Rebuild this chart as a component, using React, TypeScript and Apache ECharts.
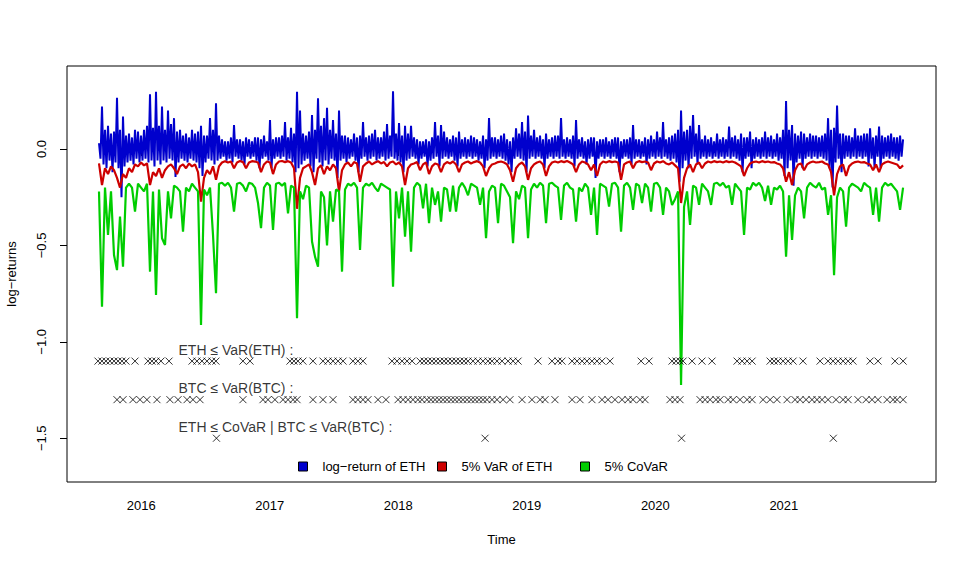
import React, { useEffect, useRef } from "react";
import * as echarts from "echarts";

// time index: decimal years; peaks at START + i*STEP, troughs half a step later
const START_YEAR = 2015.671;
const STEP_YEARS = 0.023346;

// log-return of ETH: local highs of each step
const ethPeaks = [
  0.03, 0.22, 0.1, 0.12, 0.08, 0.09, 0.266, 0.1, 0.168, 0.07,
  0.08, 0.06, 0.1, 0.09, 0.07, 0.1, 0.12, 0.284, 0.11, 0.297,
  0.12, 0.22, 0.1, 0.2, 0.13, 0.16, 0.09, 0.1, 0.07, 0.08,
  0.06, 0.1, 0.08, 0.09, 0.12, 0.07, 0.07, 0.16, 0.1, 0.237,
  0.07, 0.05, 0.04, 0.04, 0.06, 0.124, 0.05, 0.05, 0.04, 0.06,
  0.05, 0.04, 0.06, 0.06, 0.05, 0.07, 0.04, 0.15, 0.05, 0.06,
  0.06, 0.07, 0.14, 0.06, 0.11, 0.08, 0.297, 0.2, 0.08, 0.07,
  0.09, 0.176, 0.1, 0.263, 0.12, 0.16, 0.214, 0.1, 0.15, 0.08,
  0.2, 0.07, 0.07, 0.06, 0.05, 0.08, 0.06, 0.07, 0.14, 0.06,
  0.07, 0.08, 0.1, 0.06, 0.06, 0.09, 0.13, 0.07, 0.3, 0.08,
  0.135, 0.07, 0.12, 0.08, 0.12, 0.06, 0.05, 0.04, 0.04, 0.05,
  0.04, 0.06, 0.14, 0.07, 0.124, 0.09, 0.06, 0.05, 0.07, 0.06,
  0.09, 0.05, 0.06, 0.05, 0.07, 0.06, 0.05, 0.04, 0.07, 0.05,
  0.16, 0.06, 0.06, 0.05, 0.07, 0.08, 0.05, 0.04, 0.06, 0.107,
  0.08, 0.14, 0.09, 0.173, 0.07, 0.1, 0.06, 0.07, 0.05, 0.08,
  0.05, 0.06, 0.07, 0.07, 0.16, 0.05, 0.06, 0.05, 0.07, 0.15,
  0.05, 0.06, 0.04, 0.05, 0.06, 0.06, 0.04, 0.05, 0.05, 0.06,
  0.04, 0.05, 0.06, 0.06, 0.04, 0.05, 0.05, 0.06, 0.124, 0.05,
  0.05, 0.04, 0.06, 0.05, 0.07, 0.05, 0.09, 0.06, 0.14, 0.05,
  0.06, 0.07, 0.08, 0.1, 0.2, 0.09, 0.1, 0.12, 0.176, 0.08,
  0.124, 0.05, 0.07, 0.05, 0.06, 0.04, 0.08, 0.05, 0.06, 0.05,
  0.116, 0.06, 0.07, 0.05, 0.08, 0.06, 0.06, 0.09, 0.05, 0.06,
  0.05, 0.06, 0.09, 0.06, 0.07, 0.05, 0.08, 0.06, 0.1, 0.249,
  0.1, 0.124, 0.08, 0.07, 0.09, 0.08, 0.06, 0.08, 0.07, 0.07,
  0.06, 0.07, 0.08, 0.16, 0.1, 0.11, 0.225, 0.08, 0.08, 0.07,
  0.07, 0.06, 0.107, 0.07, 0.07, 0.08, 0.08, 0.107, 0.06, 0.07,
  0.116, 0.07, 0.06, 0.07, 0.08, 0.06, 0.06, 0.07, 0.05,
];

// log-return of ETH: local lows between the peaks
const ethTroughs = [
  -0.05, -0.08, -0.1, -0.06, -0.12, -0.07, -0.1, -0.25, -0.09, -0.07,
  -0.06, -0.08, -0.05, -0.07, -0.06, -0.05, -0.07, -0.06, -0.09, -0.06,
  -0.08, -0.06, -0.07, -0.05, -0.06, -0.145, -0.07, -0.05, -0.06, -0.07,
  -0.05, -0.06, -0.07, -0.1, -0.14, -0.07, -0.05, -0.06, -0.08, -0.06,
  -0.05, -0.04, -0.06, -0.05, -0.07, -0.04, -0.05, -0.06, -0.08, -0.04,
  -0.05, -0.04, -0.06, -0.1, -0.05, -0.04, -0.06, -0.1, -0.05, -0.04,
  -0.05, -0.04, -0.06, -0.05, -0.07, -0.12, -0.1, -0.08, -0.06, -0.05,
  -0.09, -0.12, -0.05, -0.07, -0.09, -0.06, -0.08, -0.05, -0.06, -0.15,
  -0.06, -0.05, -0.07, -0.05, -0.04, -0.06, -0.12, -0.05, -0.04, -0.06,
  -0.05, -0.04, -0.06, -0.05, -0.04, -0.06, -0.05, -0.04, -0.05, -0.06,
  -0.07, -0.12, -0.06, -0.05, -0.04, -0.05, -0.08, -0.05, -0.04, -0.09,
  -0.06, -0.05, -0.04, -0.09, -0.05, -0.04, -0.05, -0.04, -0.06, -0.09,
  -0.05, -0.04, -0.05, -0.04, -0.05, -0.04, -0.06, -0.05, -0.1, -0.06,
  -0.05, -0.04, -0.05, -0.04, -0.05, -0.06, -0.08, -0.12, -0.05, -0.04,
  -0.05, -0.06, -0.12, -0.05, -0.04, -0.05, -0.04, -0.05, -0.1, -0.05,
  -0.04, -0.05, -0.04, -0.05, -0.04, -0.05, -0.04, -0.05, -0.09, -0.05,
  -0.04, -0.05, -0.08, -0.05, -0.04, -0.15, -0.05, -0.04, -0.05, -0.04,
  -0.05, -0.04, -0.05, -0.12, -0.05, -0.04, -0.05, -0.08, -0.05, -0.04,
  -0.05, -0.04, -0.08, -0.05, -0.04, -0.05, -0.04, -0.05, -0.04, -0.05,
  -0.06, -0.05, -0.07, -0.17, -0.1, -0.06, -0.1, -0.05, -0.04, -0.08,
  -0.05, -0.04, -0.05, -0.04, -0.05, -0.04, -0.05, -0.04, -0.05, -0.04,
  -0.05, -0.04, -0.05, -0.06, -0.12, -0.05, -0.04, -0.1, -0.05, -0.04,
  -0.05, -0.04, -0.05, -0.04, -0.05, -0.04, -0.06, -0.05, -0.14, -0.1,
  -0.06, -0.19, -0.07, -0.05, -0.1, -0.05, -0.04, -0.05, -0.04, -0.05,
  -0.04, -0.05, -0.06, -0.1, -0.2, -0.07, -0.05, -0.12, -0.05, -0.04,
  -0.05, -0.04, -0.05, -0.04, -0.05, -0.04, -0.09, -0.05, -0.1, -0.04,
  -0.1, -0.05, -0.04, -0.05, -0.04, -0.05, -0.06, -0.04,
];

const varEth = [
  -0.075, -0.187, -0.1, -0.13, -0.09, -0.11, -0.15, -0.2, -0.13, -0.15,
  -0.1, -0.12, -0.08, -0.09, -0.07, -0.085, -0.075, -0.187, -0.12, -0.14,
  -0.1, -0.15, -0.11, -0.09, -0.08, -0.1, -0.13, -0.09, -0.08, -0.1,
  -0.075, -0.09, -0.08, -0.12, -0.273, -0.15, -0.11, -0.13, -0.09, -0.16,
  -0.09, -0.07, -0.063, -0.07, -0.065, -0.1, -0.07, -0.062, -0.068, -0.1,
  -0.07, -0.063, -0.065, -0.07, -0.12, -0.08, -0.065, -0.07, -0.13, -0.08,
  -0.065, -0.062, -0.068, -0.063, -0.07, -0.1, -0.31, -0.15, -0.1, -0.09,
  -0.08, -0.12, -0.187, -0.1, -0.085, -0.13, -0.09, -0.11, -0.08, -0.1,
  -0.22, -0.11, -0.08, -0.07, -0.09, -0.068, -0.075, -0.17, -0.09, -0.075,
  -0.065, -0.08, -0.07, -0.063, -0.075, -0.068, -0.09, -0.07, -0.065, -0.08,
  -0.07, -0.09, -0.187, -0.1, -0.08, -0.075, -0.068, -0.11, -0.08, -0.07,
  -0.13, -0.09, -0.075, -0.08, -0.12, -0.08, -0.068, -0.075, -0.065, -0.08,
  -0.12, -0.08, -0.07, -0.065, -0.075, -0.068, -0.063, -0.07, -0.09, -0.14,
  -0.1, -0.08, -0.075, -0.068, -0.065, -0.07, -0.08, -0.11, -0.17, -0.1,
  -0.08, -0.07, -0.09, -0.16, -0.1, -0.08, -0.07, -0.065, -0.08, -0.14,
  -0.09, -0.07, -0.065, -0.07, -0.063, -0.068, -0.062, -0.07, -0.08, -0.12,
  -0.08, -0.065, -0.07, -0.08, -0.11, -0.08, -0.14, -0.08, -0.065, -0.07,
  -0.063, -0.068, -0.065, -0.07, -0.16, -0.08, -0.07, -0.065, -0.1, -0.07,
  -0.063, -0.068, -0.065, -0.07, -0.11, -0.075, -0.065, -0.07, -0.063, -0.075,
  -0.08, -0.07, -0.085, -0.1, -0.28, -0.15, -0.1, -0.08, -0.12, -0.08,
  -0.07, -0.1, -0.075, -0.065, -0.07, -0.063, -0.068, -0.065, -0.07, -0.063,
  -0.068, -0.065, -0.07, -0.08, -0.09, -0.14, -0.1, -0.075, -0.068, -0.065,
  -0.07, -0.063, -0.068, -0.065, -0.07, -0.068, -0.075, -0.08, -0.1, -0.17,
  -0.12, -0.187, -0.11, -0.08, -0.075, -0.11, -0.08, -0.07, -0.065, -0.07,
  -0.068, -0.065, -0.075, -0.08, -0.12, -0.24, -0.13, -0.09, -0.08, -0.14,
  -0.09, -0.075, -0.068, -0.065, -0.07, -0.068, -0.075, -0.08, -0.11, -0.08,
  -0.12, -0.08, -0.07, -0.065, -0.07, -0.075, -0.08, -0.1, -0.085,
];

const coVar = [
  -0.22, -0.818, -0.2, -0.446, -0.22, -0.55, -0.628, -0.35, -0.61, -0.2,
  -0.18, -0.2, -0.325, -0.18, -0.2, -0.22, -0.18, -0.636, -0.22, -0.757,
  -0.21, -0.463, -0.498, -0.22, -0.36, -0.19, -0.2, -0.22, -0.429, -0.2,
  -0.22, -0.18, -0.2, -0.22, -0.913, -0.21, -0.24, -0.2, -0.446, -0.748,
  -0.18, -0.175, -0.19, -0.175, -0.2, -0.325, -0.18, -0.175, -0.19, -0.22,
  -0.175, -0.18, -0.2, -0.28, -0.41, -0.2, -0.175, -0.19, -0.42, -0.18,
  -0.175, -0.19, -0.175, -0.334, -0.19, -0.2, -0.878, -0.22, -0.26, -0.19,
  -0.2, -0.48, -0.558, -0.61, -0.22, -0.25, -0.5, -0.22, -0.377, -0.21,
  -0.22, -0.636, -0.21, -0.18, -0.19, -0.175, -0.2, -0.524, -0.2, -0.18,
  -0.19, -0.175, -0.2, -0.22, -0.18, -0.19, -0.2, -0.21, -0.714, -0.22,
  -0.36, -0.2, -0.455, -0.22, -0.533, -0.2, -0.175, -0.19, -0.308, -0.18,
  -0.385, -0.2, -0.29, -0.22, -0.377, -0.2, -0.21, -0.325, -0.19, -0.325,
  -0.2, -0.175, -0.2, -0.24, -0.18, -0.19, -0.2, -0.29, -0.2, -0.463,
  -0.22, -0.19, -0.2, -0.385, -0.18, -0.19, -0.22, -0.25, -0.489, -0.22,
  -0.26, -0.19, -0.2, -0.463, -0.21, -0.18, -0.2, -0.175, -0.19, -0.385,
  -0.18, -0.175, -0.19, -0.2, -0.368, -0.19, -0.175, -0.2, -0.21, -0.377,
  -0.2, -0.22, -0.18, -0.2, -0.342, -0.2, -0.446, -0.18, -0.19, -0.2,
  -0.299, -0.18, -0.175, -0.2, -0.429, -0.19, -0.175, -0.2, -0.316, -0.18,
  -0.19, -0.28, -0.18, -0.2, -0.325, -0.18, -0.175, -0.2, -0.342, -0.2,
  -0.22, -0.29, -0.26, -0.22, -1.224, -0.3, -0.22, -0.394, -0.19, -0.2,
  -0.29, -0.18, -0.2, -0.22, -0.29, -0.18, -0.175, -0.19, -0.175, -0.2,
  -0.19, -0.29, -0.18, -0.2, -0.22, -0.446, -0.2, -0.21, -0.175, -0.19,
  -0.175, -0.2, -0.27, -0.19, -0.29, -0.2, -0.21, -0.19, -0.22, -0.558,
  -0.24, -0.472, -0.24, -0.2, -0.22, -0.36, -0.2, -0.175, -0.19, -0.2,
  -0.175, -0.21, -0.2, -0.342, -0.24, -0.654, -0.25, -0.2, -0.22, -0.403,
  -0.2, -0.18, -0.19, -0.2, -0.22, -0.175, -0.19, -0.2, -0.342, -0.2,
  -0.377, -0.2, -0.175, -0.19, -0.18, -0.2, -0.22, -0.316, -0.2,
];

// exceedance dates (decimal years)
const ethBelowVar = [
  2015.663, 2015.694, 2015.725, 2015.756, 2015.788, 2015.819, 2015.85, 2015.881,
  2015.951, 2016.052, 2016.083, 2016.114, 2016.153, 2016.216, 2016.395, 2016.433,
  2016.472, 2016.511, 2016.55, 2016.581, 2016.791, 2016.846, 2017.157, 2017.188,
  2017.219, 2017.258, 2017.336, 2017.414, 2017.453, 2017.492, 2017.531, 2017.57,
  2017.647, 2017.686, 2017.725, 2017.951, 2017.99, 2018.029, 2018.068, 2018.107,
  2018.169, 2018.2, 2018.231, 2018.262, 2018.293, 2018.325, 2018.356, 2018.387,
  2018.418, 2018.449, 2018.48, 2018.511, 2018.542, 2018.581, 2018.62, 2018.659,
  2018.698, 2018.729, 2018.768, 2018.807, 2018.854, 2018.893, 2018.932, 2019.087,
  2019.196, 2019.243, 2019.274, 2019.352, 2019.391, 2019.43, 2019.468, 2019.507,
  2019.546, 2019.585, 2019.647, 2019.889, 2019.951, 2020.13, 2020.161, 2020.192,
  2020.216, 2020.286, 2020.363, 2020.441, 2020.636, 2020.675, 2020.714, 2020.753,
  2020.893, 2020.924, 2020.955, 2020.994, 2021.033, 2021.072, 2021.149, 2021.282,
  2021.344, 2021.383, 2021.422, 2021.461, 2021.5, 2021.538, 2021.671, 2021.733,
  2021.865, 2021.928,
];

const btcBelowVar = [
  2015.811, 2015.858, 2015.935, 2015.99, 2016.044, 2016.122, 2016.223, 2016.286,
  2016.356, 2016.402, 2016.457, 2016.791, 2016.947, 2016.986, 2017.04, 2017.103,
  2017.142, 2017.181, 2017.212, 2017.336, 2017.414, 2017.492, 2017.647, 2017.686,
  2017.725, 2017.764, 2017.842, 2017.904, 2017.998, 2018.037, 2018.076, 2018.114,
  2018.153, 2018.184, 2018.223, 2018.254, 2018.286, 2018.317, 2018.348, 2018.379,
  2018.41, 2018.441, 2018.472, 2018.503, 2018.535, 2018.566, 2018.597, 2018.628,
  2018.659, 2018.69, 2018.729, 2018.768, 2018.815, 2018.869, 2018.963, 2019.04,
  2019.103, 2019.142, 2019.219, 2019.352, 2019.414, 2019.507, 2019.585, 2019.632,
  2019.686, 2019.741, 2019.788, 2019.826, 2019.881, 2019.92, 2020.114, 2020.153,
  2020.192, 2020.348, 2020.387, 2020.426, 2020.472, 2020.504, 2020.566, 2020.605,
  2020.659, 2020.714, 2020.753, 2020.838, 2020.893, 2020.947, 2021.025, 2021.087,
  2021.126, 2021.173, 2021.219, 2021.258, 2021.297, 2021.344, 2021.406, 2021.461,
  2021.5, 2021.577, 2021.64, 2021.686, 2021.733, 2021.803, 2021.85, 2021.881,
  2021.928,
];

const ethBelowCoVar = [2016.585, 2018.675, 2020.204, 2021.385];

const markerRowLevels = [-1.1, -1.3, -1.5];
const rowLabels = [
  "ETH \u2264 VaR(ETH) :",
  "BTC \u2264 VaR(BTC) :",
  "ETH \u2264 CoVaR | BTC \u2264 VaR(BTC) :",
];
const rowLabelX = 2016.286;
const rowLabelOffset = 0.06;

const yearTicks = [2016, 2017, 2018, 2019, 2020, 2021];
const yTicks = [-1.5, -1.0, -0.5, 0.0];
const seriesNames = ["log\u2212return of ETH", "5% VaR of ETH", "5% CoVaR"];
const seriesColors = ["#0000CD", "#CD0000", "#00CD00"];

const FONT = "'Liberation Sans', Arial, Helvetica, sans-serif";

export default function App() {
  const ref = useRef<HTMLDivElement>(null);

  useEffect(() => {
    if (!ref.current) return;
    const chart = echarts.init(ref.current, undefined, { renderer: "svg" });
    const toXY = (arr: number[]) =>
      arr.map((v, i) => [START_YEAR + i * STEP_YEARS, v]);
    const ethData: number[][] = [];
    ethPeaks.forEach((v, i) => {
      ethData.push([START_YEAR + i * STEP_YEARS, v]);
      if (i < ethTroughs.length)
        ethData.push([START_YEAR + (i + 0.5) * STEP_YEARS, ethTroughs[i]]);
    });
    const crossSym = "path://M0,0L10,10M10,0L0,10";
    const markerSeries = [ethBelowVar, btcBelowVar, ethBelowCoVar].map(
      (dates, k) => ({
        type: "scatter",
        name: "row" + k,
        data: dates.map((d) => [d, markerRowLevels[k]]),
        symbol: crossSym,
        symbolSize: 7,
        itemStyle: { color: "transparent", borderColor: "#000", borderWidth: 1 },
        silent: true,
        z: 5,
      })
    );
    const legendCommon = {
      icon: "rect",
      itemWidth: 9,
      itemHeight: 9,
      padding: 0,
      selectedMode: false,
      itemStyle: { borderColor: "#000", borderWidth: 1 },
      textStyle: { fontSize: 13, color: "#000", fontFamily: FONT, padding: [0, 0, 0, 10] },
      top: 460,
    };
    const lineData = [ethData, toXY(varEth), toXY(coVar)];
    chart.setOption({
      animation: false,
      backgroundColor: "#fff",
      textStyle: { fontFamily: FONT },
      grid: {
        left: 67,
        right: 33,
        top: 66,
        bottom: 83,
        show: true,
        borderColor: "#000",
        borderWidth: 1,
        backgroundColor: "transparent",
        containLabel: false,
        outerBoundsMode: "none",
      },
      xAxis: {
        type: "value",
        min: 2015.422,
        max: 2022.184,
        name: "Time",
        nameLocation: "middle",
        nameGap: 51,
        nameTextStyle: { fontSize: 13, color: "#000", fontFamily: FONT },
        axisLine: { show: false },
        splitLine: { show: false },
        axisTick: { show: true, length: 7, lineStyle: { color: "#000" }, customValues: yearTicks },
        axisLabel: {
          customValues: yearTicks,
          fontSize: 13,
          fontFamily: FONT,
          color: "#000",
          margin: 17,
          formatter: (v: number) => String(Math.round(v)),
        },
      },
      yAxis: {
        type: "value",
        min: -1.727,
        max: 0.4305,
        name: "log\u2212returns",
        nameLocation: "middle",
        nameGap: 49,
        nameRotate: 90,
        nameTextStyle: { fontSize: 13, color: "#000", fontFamily: FONT },
        axisLine: { show: false },
        splitLine: { show: false },
        axisTick: { show: true, length: 7, lineStyle: { color: "#000" }, customValues: yTicks },
        axisLabel: {
          customValues: yTicks,
          rotate: 90,
          fontSize: 13,
          fontFamily: FONT,
          color: "#000",
          margin: 19,
          formatter: (v: number) => v.toFixed(1).replace("-", "\u2212"),
        },
      },
      legend: [
        { ...legendCommon, data: [seriesNames[0]], left: 298 },
        { ...legendCommon, data: [seriesNames[1]], left: 437 },
        { ...legendCommon, data: [seriesNames[2]], left: 580 },
      ],
      series: [
        ...lineData.map((d, k) => ({
          type: "line",
          name: seriesNames[k],
          data: d,
          showSymbol: false,
          symbol: "none",
          color: seriesColors[k],
          lineStyle: { color: seriesColors[k], width: k === 0 ? 2 : 2.2 },
          silent: true,
          z: 2 + k,
        })),
        ...markerSeries,
        {
          type: "scatter",
          name: "labels",
          data: rowLabels.map((t, k) => ({
            name: t,
            value: [rowLabelX, markerRowLevels[k] + rowLabelOffset],
          })),
          symbolSize: 1,
          itemStyle: { color: "transparent" },
          label: {
            show: true,
            position: "right",
            distance: 0,
            formatter: "{b}",
            fontSize: 14,
            color: "#000",
            fontFamily: FONT,
          },
          silent: true,
          z: 6,
        },
      ],
    });
    return () => chart.dispose();
  }, []);

  return (
    <div
      ref={ref}
      style={{ position: "absolute", left: 0, top: 0, width: 969, height: 565 }}
    />
  );
}
